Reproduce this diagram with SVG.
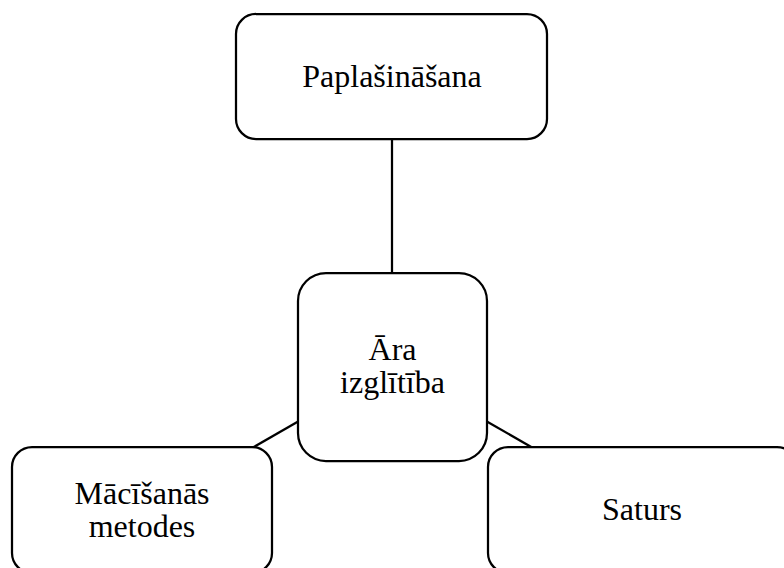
<svg xmlns="http://www.w3.org/2000/svg" width="784" height="568" viewBox="0 0 784 568">
<style>
.box{fill:#fff;stroke:#000;stroke-width:2.25}
.conn line{stroke:#000;stroke-width:2.25}
text{font-family:"Liberation Serif","Times New Roman",serif;font-size:32px;fill:#000;text-anchor:middle}
</style>
<rect width="784" height="568" fill="#fff"/>
<g class="conn" id="connectors">
<line x1="392" y1="139" x2="392" y2="273"/>
<line x1="299" y1="421" x2="252" y2="448"/>
<line x1="486" y1="421" x2="533" y2="448"/>
</g>
<g id="node-paplasinasana">
<rect class="box" x="236" y="14" width="311" height="125" rx="20"/>
<text x="392" y="87">Paplašināšana</text>
</g>
<g id="node-ara-izglitiba">
<rect class="box" x="298" y="273" width="189" height="188" rx="28"/>
<text x="392.5" y="360">Āra</text>
<text x="392.5" y="393">izglītība</text>
</g>
<g id="node-macisanas-metodes">
<rect class="box" x="12" y="447" width="260" height="126" rx="20"/>
<text x="142" y="504">Mācīšanās</text>
<text x="142" y="537">metodes</text>
</g>
<g id="node-saturs">
<rect class="box" x="488" y="447" width="309" height="126" rx="20"/>
<text x="642" y="520">Saturs</text>
</g>
</svg>
